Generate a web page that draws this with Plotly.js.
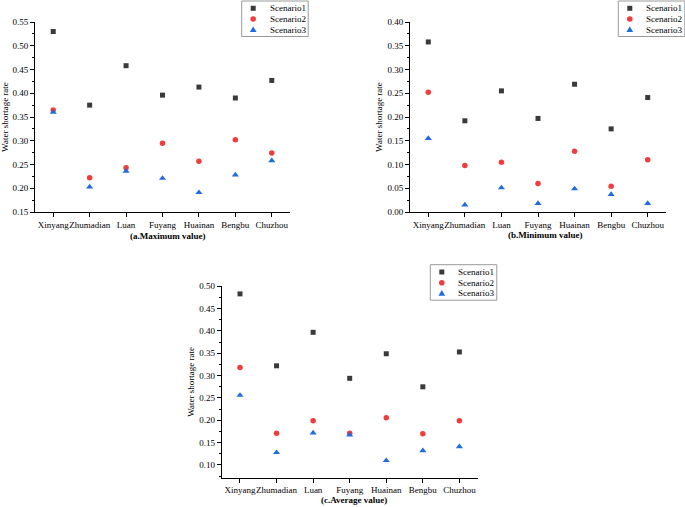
<!DOCTYPE html>
<html>
<head>
<meta charset="utf-8">
<script src="https://cdn.plot.ly/plotly-3.0.1.min.js"></script>
<style>html,body{margin:0;padding:0;background:#fff;}#chart{width:685px;height:507px;}</style>
</head>
<body>
<div id="chart"></div>
<script>
const categories = ['Xinyang','Zhumadian','Luan','Fuyang','Huainan','Bengbu','Chuzhou'];
const seriesNames = ['Scenario1','Scenario2','Scenario3'];

const maxS1 = [0.530,0.375,0.458,0.396,0.413,0.390,0.427];
const maxS2 = [0.365,0.222,0.243,0.295,0.257,0.302,0.274];
const maxS3 = [0.360,0.203,0.236,0.221,0.191,0.228,0.258];

const minS1 = [0.358,0.192,0.255,0.197,0.269,0.175,0.241];
const minS2 = [0.252,0.098,0.105,0.060,0.128,0.054,0.110];
const minS3 = [0.155,0.015,0.051,0.018,0.049,0.037,0.018];

const avgS1 = [0.483,0.322,0.397,0.294,0.349,0.275,0.353];
const avgS2 = [0.318,0.171,0.199,0.171,0.206,0.170,0.199];
const avgS3 = [0.256,0.128,0.172,0.167,0.110,0.132,0.141];

const panelLabels = ['(a.Maximum value)','(b.Minimum value)','(c.Average value)'];
const yTitle = 'Water shortage rate';

const W = 685, H = 507;
const FONT = "'Liberation Serif','Times New Roman',serif";
const colors = ['#3a3a3a','#f03c3c','#1f6be0'];
const symbols = ['square','circle','triangle-up'];
const sizes = [5,5.5,6.2];

const px = v => v / W;
const py = v => 1 - v / H;

const panels = [
  {data:[maxS1,maxS2,maxS3], xd:[35,290], yd:[22,212], range:[0.15,0.55], label:[168,236], legend:[241.7,1]},
  {data:[minS1,minS2,minS3], xd:[410,666], yd:[22,212], range:[0,0.40], label:[545,235], legend:[618.3,1]},
  {data:[avgS1,avgS2,avgS3], xd:[221.7,477.7], yd:[286.3,477.5], range:[0.072,0.50], label:[354.5,500], legend:[430.3,264.7]}
];

const traces = [];
const layout = {
  width: W, height: H,
  margin: {l:0, r:0, t:0, b:0},
  paper_bgcolor: '#fff', plot_bgcolor: 'rgba(0,0,0,0)',
  showlegend: false,
  font: {family: FONT, size: 9, color: '#000'},
  shapes: [], annotations: []
};

panels.forEach((p, i) => {
  const n = i === 0 ? '' : String(i + 1);
  p.data.forEach((vals, s) => {
    traces.push({
      type: 'scatter', mode: 'markers',
      x: categories, y: vals, name: seriesNames[s],
      xaxis: 'x' + n, yaxis: 'y' + n,
      marker: {symbol: symbols[s], color: colors[s], size: sizes[s], line: {width: 0}},
      cliponaxis: false
    });
  });
  layout['xaxis' + n] = {
    domain: [px(p.xd[0]), px(p.xd[1])],
    anchor: 'y' + n,
    type: 'category',
    range: [-0.5, 6.5],
    tickangle: 0,
    showline: true, linecolor: '#000', linewidth: 1,
    ticks: 'outside', ticklen: 4, tickwidth: 1, tickcolor: '#000',
    minor: {dtick: 0.5, ticks: 'outside', ticklen: 3, tickcolor: '#000', showgrid: false},
    showgrid: false, zeroline: false,
    tickfont: {family: FONT, size: 9, color: '#000'}
  };
  layout['yaxis' + n] = {
    domain: [py(p.yd[1]), py(p.yd[0])],
    anchor: 'x' + n,
    range: p.range,
    tick0: 0, dtick: 0.05, tickformat: '.2f',
    showline: true, linecolor: '#000', linewidth: 1,
    ticks: 'outside', ticklen: 4, tickwidth: 1, tickcolor: '#000',
    minor: {dtick: 0.025, tick0: 0, ticks: 'outside', ticklen: 2, tickcolor: '#000', showgrid: false},
    showgrid: false, zeroline: false,
    tickfont: {family: FONT, size: 9, color: '#000'},
    title: {text: yTitle, font: {family: FONT, size: 9, color: '#000'}}
  };
  layout.annotations.push({
    xref: 'paper', yref: 'paper', x: px(p.label[0]), y: py(p.label[1]),
    xanchor: 'center', yanchor: 'middle', showarrow: false,
    text: '<b>' + panelLabels[i] + '</b>',
    font: {family: FONT, size: 9, color: '#000'}
  });
  // custom legend box
  const L = p.legend[0], T = p.legend[1];
  layout.shapes.push({type:'rect', xref:'paper', yref:'paper',
    x0: px(L), x1: px(L + 66.5), y0: py(T + 35.5), y1: py(T),
    line: {color: '#9a9a9a', width: 1}, fillcolor: '#fff', layer: 'above'});
  const rows = [7.3, 18, 28.7];
  rows.forEach((dy, s) => {
    const cx = L + 11.5, cy = T + dy;
    if (s === 0) {
      layout.shapes.push({type:'rect', xref:'paper', yref:'paper',
        x0: px(cx - 2.5), x1: px(cx + 2.5), y0: py(cy + 2.5), y1: py(cy - 2.5),
        line: {width: 0}, fillcolor: colors[0], layer: 'above'});
    } else if (s === 1) {
      layout.shapes.push({type:'circle', xref:'paper', yref:'paper',
        x0: px(cx - 2.8), x1: px(cx + 2.8), y0: py(cy + 2.8), y1: py(cy - 2.8),
        line: {width: 0}, fillcolor: colors[1], layer: 'above'});
    } else {
      layout.shapes.push({type:'path', xref:'paper', yref:'paper',
        path: 'M ' + px(cx - 3.4) + ' ' + py(cy + 2.3) + ' L ' + px(cx + 3.4) + ' ' + py(cy + 2.3) +
              ' L ' + px(cx) + ' ' + py(cy - 3.3) + ' Z',
        line: {width: 0}, fillcolor: colors[2], layer: 'above'});
    }
    layout.annotations.push({
      xref: 'paper', yref: 'paper', x: px(L + 26), y: py(cy),
      xanchor: 'left', yanchor: 'middle', showarrow: false,
      text: seriesNames[s], font: {family: FONT, size: 9, color: '#000'}
    });
  });
});

Plotly.newPlot('chart', traces, layout, {staticPlot: true, displayModeBar: false});
</script>
</body>
</html>
